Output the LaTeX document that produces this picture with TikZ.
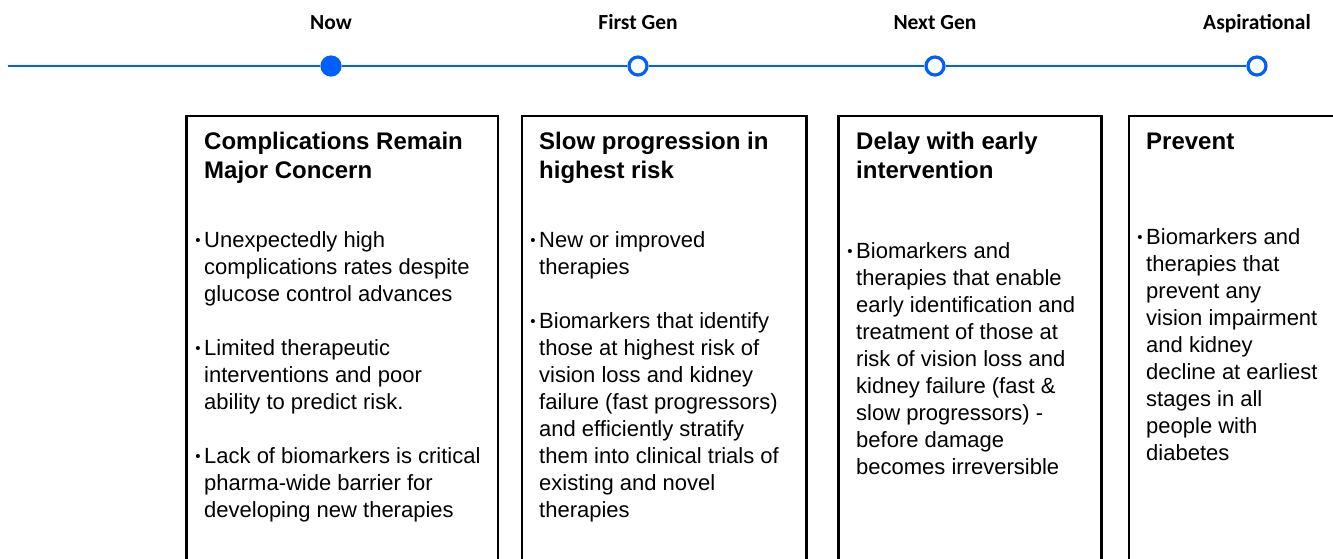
\documentclass[tikz,border=0pt]{standalone}
\usepackage{fontspec}
\setmainfont{Liberation Sans}
\newfontfamily\tlfont{Carlito}
\definecolor{tlblue}{RGB}{0,96,255}
% small bullet hung to the left of the first line
\newcommand\bul{\llap{\fontsize{15}{15}\selectfont\raisebox{1.5pt}{•}\hspace{3.5pt}}}
% left-aligned lines whose baseline is the first line's
\newcommand\lines[1]{\begin{tabular}[t]{@{}l@{}}#1\end{tabular}}
\begin{document}
\begin{tikzpicture}[x=1pt,y=-1pt,
  stage/.style={font=\tlfont\bfseries\fontsize{21.5}{24}\selectfont, anchor=base, inner sep=0},
  dot/.style={circle, draw=tlblue, line width=3.2pt, minimum size=18pt, inner sep=0, fill=white},
  nowdot/.style={dot, fill=tlblue},
  card/.style={draw=black, line width=2.8pt, anchor=north west, inner sep=0, minimum height=480pt},
  head/.style={font=\bfseries\fontsize{24}{29}\selectfont, anchor=base west, inner sep=0},
  item/.style={font=\fontsize{22}{27}\selectfont, anchor=base west, inner sep=0},
]
\useasboundingbox (0,0) rectangle (1333,558);
\clip (0,0) rectangle (1333,558);

% timeline
\coordinate (tstart) at (8,66);
\node[nowdot] (d1) at (331,66) {};
\node[dot] (d2) at (638,66) {};
\node[dot] (d3) at (935,66) {};
\node[dot] (d4) at (1257,66) {};
\draw[tlblue, line width=2.8pt] (tstart) -- (d1) -- (d2) -- (d3) -- (d4);

\node[stage] (s1) at (331,29) {Now};
\node[stage] (s2) at (638,29) {First Gen};
\node[stage] (s3) at (935,29) {Next Gen};
\node[stage] (s4) at (1257,29) {Aspirational};

% cards
\node[card, minimum width=311.5pt] (c1) at (185,114.5) {};
\node[card, minimum width=284.8pt] (c2) at (520.5,114.5) {};
\node[card, minimum width=262.7pt] (c3) at (837.3,114.5) {};
\node[card, minimum width=230pt] (c4) at (1127.5,114.5) {};

% card 1
\node[head] (h1) at (204,149) {\lines{Complications Remain\\Major Concern}};
\node[item] (p11) at (204,247) {\lines{\bul Unexpectedly high\\complications rates despite\\glucose control advances}};
\node[item] (p12) at (204,355) {\lines{\bul Limited therapeutic\\interventions and poor\\ability to predict risk.}};
\node[item] (p13) at (204,463) {\lines{\bul Lack of biomarkers is critical\\pharma-wide barrier for\\developing new therapies}};

% card 2
\node[head] (h2) at (539,149) {\lines{Slow progression in\\highest risk}};
\node[item] (p21) at (539,247) {\lines{\bul New or improved\\therapies}};
\node[item] (p22) at (539,328) {\lines{\bul Biomarkers that identify\\those at highest risk of\\vision loss and kidney\\failure (fast progressors)\\and efficiently stratify\\them into clinical trials of\\existing and novel\\therapies}};

% card 3
\node[head] (h3) at (856,149) {\lines{Delay with early\\intervention}};
\node[item] (p31) at (856,258) {\lines{\bul Biomarkers and\\therapies that enable\\early identification and\\treatment of those at\\risk of vision loss and\\kidney failure (fast \&\\slow progressors) -\\before damage\\becomes irreversible}};

% card 4
\node[head] (h4) at (1146,149) {Prevent};
\node[item] (p41) at (1146,244) {\lines{\bul Biomarkers and\\therapies that\\prevent any\\vision impairment\\and kidney\\decline at earliest\\stages in all\\people with\\diabetes}};
\end{tikzpicture}
\end{document}
